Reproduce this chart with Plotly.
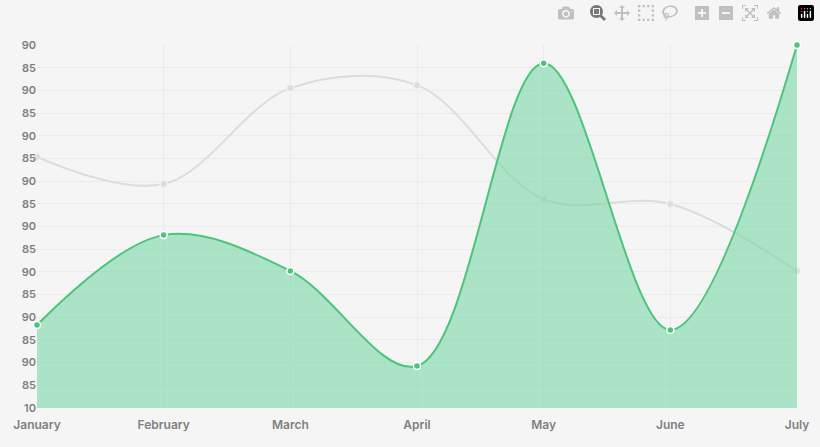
import plotly.graph_objects as go

months = ["January","February","March","April","May","June","July"]
green = [3.66, 7.62, 6.04, 1.85, 15.2, 3.44, 16.0]
gray = [11.06, 9.87, 14.1, 14.23, 9.2, 8.99, 6.04]
ytext = ["10"] + ["85","90"]*8

fig = go.Figure()
fig.add_trace(go.Scatter(x=months, y=gray, mode="lines+markers", cliponaxis=False,
    line=dict(color="#dcdcdc", width=2, shape="spline", smoothing=1),
    marker=dict(size=7, color="#dcdcdc", line=dict(color="#f0f0f0", width=1.5)), hoverinfo="skip"))
fig.add_trace(go.Scatter(x=months, y=green, mode="lines+markers", fill="tozeroy", cliponaxis=False,
    fillcolor="rgba(120,215,165,0.6)",
    line=dict(color="#4cc47c", width=2, shape="spline", smoothing=1),
    marker=dict(size=7, color="#4cc47c", line=dict(color="#ffffff", width=1.5))))
fig.update_layout(width=820, height=447, paper_bgcolor="#f5f5f5", plot_bgcolor="#f5f5f5", showlegend=False,
    margin=dict(l=37, r=23, t=45, b=39), font=dict(family="Inter", size=12, color="#808080"))
fig.update_xaxes(range=[0,6], showgrid=True, gridcolor="#ebebeb", zeroline=False, showline=False, ticks="",
    ticklabelstandoff=8, tickfont=dict(size=12, weight=600))
fig.update_yaxes(range=[0,16], tickvals=list(range(17)), ticktext=ytext, showgrid=True, gridcolor="#ebebeb",
    zeroline=False, tickfont=dict(size=11, weight=600))
fig.write_html("out.html")
with open("out.html") as f:
    html = f.read()
html = html.replace("<head>", "<head><style>html,body{margin:0;padding:0;background:#f5f5f5;overflow:hidden}</style>", 1)
with open("out.html", "w") as f:
    f.write(html)
